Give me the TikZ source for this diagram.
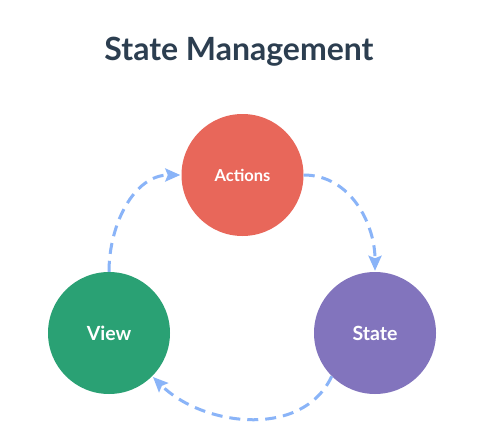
\documentclass[tikz,border=0pt]{standalone}
\usepackage{fontspec}
\setmainfont{Lato}
\usepackage{xcolor}
\usetikzlibrary{arrows.meta}
\definecolor{titleblue}{HTML}{2C3E50}
\definecolor{actionred}{HTML}{E8675A}
\definecolor{viewgreen}{HTML}{2AA174}
\definecolor{statepurple}{HTML}{8274BD}
\definecolor{flowblue}{HTML}{8AB4F8}
\tikzset{
stage/.style={
  circle,
  minimum size=122pt,
  inner sep=0pt,
  text=white,
  font=\bfseries\fontsize{19.5}{21}\selectfont
},
flow/.style={
  draw=flowblue,
  line width=3pt,
  dash pattern=on 11pt off 7pt,
  -{Stealth[length=15pt,width=13pt,inset=2.5pt]},
  shorten >=1pt
},
}

\begin{document}
\begin{tikzpicture}[x=1pt,y=1pt]
\useasboundingbox[fill=white] (0,0) rectangle (500,432);
% the title
\node (title) [anchor=base,text=titleblue,font=\bfseries\fontsize{32}{36}\selectfont]
  at (239,371) {State Management};
% the circles
\node (actions) [stage,fill=actionred,font=\bfseries\fontsize{16.5}{18}\selectfont]
  at (242.5,257) {Actions};
\node (view) [stage,fill=viewgreen] at (109,99) {View};
\node (state) [stage,fill=statepurple] at (375,99) {State};
% the arrows
\begin{scope}
\draw[flow] (view.north) to[out=90,in=180] (actions.west);
\draw[flow] (actions.east) to[out=0,in=90] (state.north);
\draw[flow] (state.south west) to[out=-115,in=-45] (view.south east);
\end{scope}
\end{tikzpicture}
\end{document}
